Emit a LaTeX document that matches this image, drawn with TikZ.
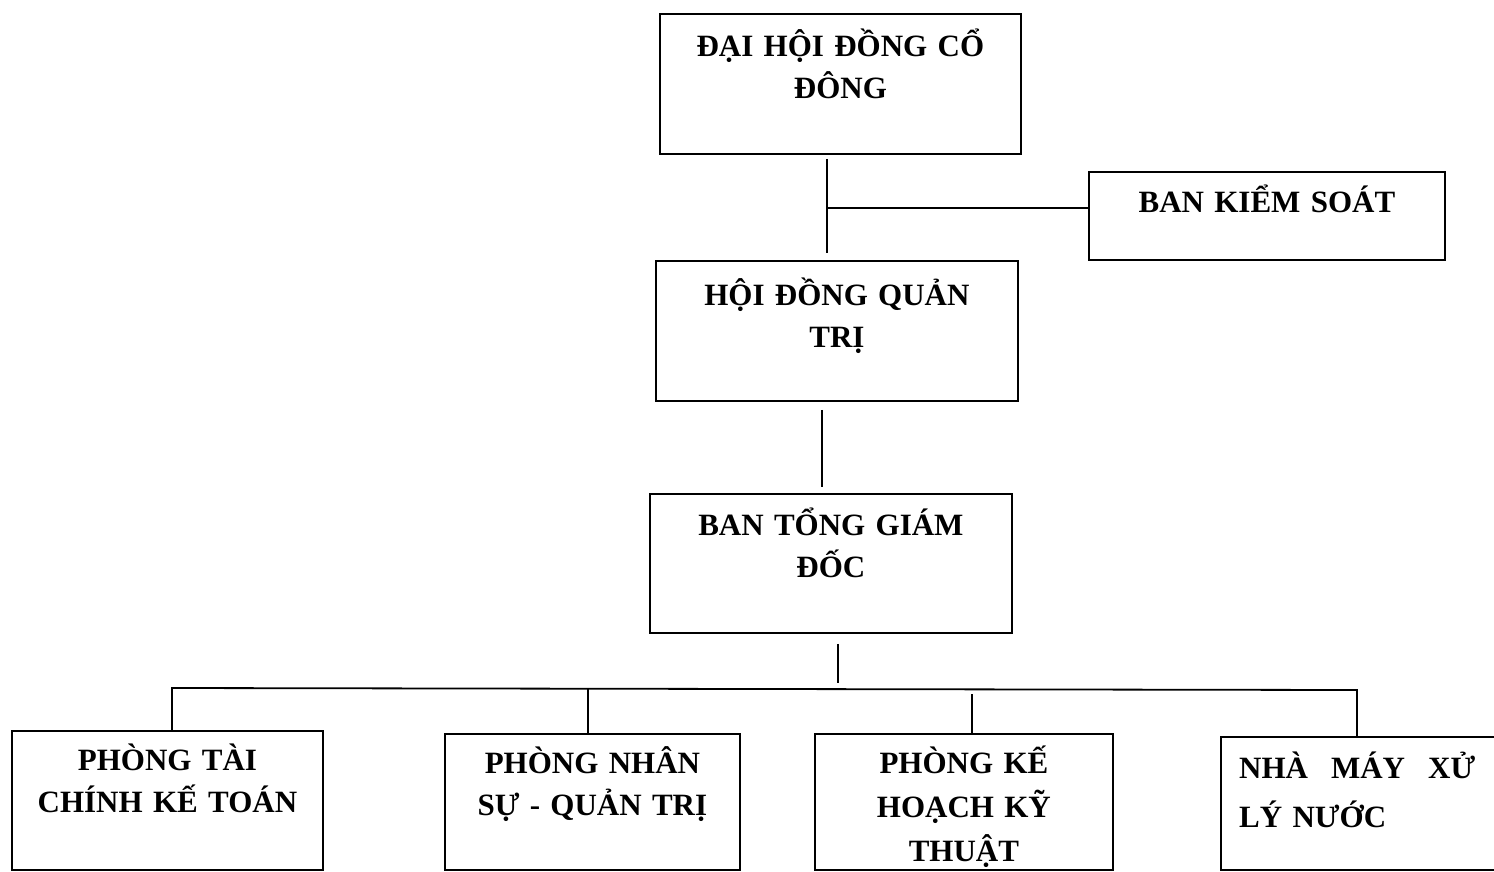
\documentclass[tikz,border=0pt]{standalone}
\usepackage{fontspec}
\setmainfont{Liberation Serif}
\usetikzlibrary{calc}
\tikzset{
  orgbox/.style={draw=black, line width=1.8pt, inner sep=0pt, anchor=north west},
  orgtext/.style={font=\bfseries\fontsize{31}{42}\selectfont, align=center, anchor=base, inner sep=0pt},
  conn/.style={draw=black, line width=1.8pt}
}
\begin{document}
\begin{tikzpicture}[x=1pt,y=-1pt]
\useasboundingbox (0,0) rectangle (1494,871);
\fill[white] (0,0) rectangle (1494,871);

% boxes
\node[orgbox, minimum width=361pt, minimum height=140pt] (dhd) at (659,13) {};
\node[orgbox, minimum width=356pt, minimum height=88pt] (bks) at (1088,171) {};
\node[orgbox, minimum width=362pt, minimum height=140pt] (hdqt) at (655,260) {};
\node[orgbox, minimum width=362pt, minimum height=139pt] (btgd) at (649,493) {};
\node[orgbox, minimum width=311pt, minimum height=139pt] (ptckt) at (11,730) {};
\node[orgbox, minimum width=295pt, minimum height=136pt] (pnsqt) at (444,733) {};
\node[orgbox, minimum width=298pt, minimum height=136pt] (pkhkt) at (814,733) {};
\node[orgbox, minimum width=320pt, minimum height=133pt] (nmxln) at (1220,736) {};

% texts
\node[orgtext, text width=340pt] (tdhd) at ([yshift=-43pt]dhd.north) {ĐẠI HỘI ĐỒNG CỔ\\ĐÔNG};
\node[orgtext, text width=340pt] (tbks) at ([yshift=-41pt]bks.north) {BAN KIỂM SOÁT};
\node[orgtext, text width=340pt] (thdqt) at ([yshift=-45pt]hdqt.north) {HỘI ĐỒNG QUẢN\\TRỊ};
\node[orgtext, text width=340pt] (tbtgd) at ([yshift=-42pt]btgd.north) {BAN TỔNG GIÁM\\ĐỐC};
\node[orgtext, text width=300pt] (tptckt) at ([yshift=-40pt]ptckt.north) {PHÒNG TÀI\\CHÍNH KẾ TOÁN};
\node[orgtext, text width=285pt] (tpnsqt) at ([yshift=-40pt]pnsqt.north) {PHÒNG NHÂN\\SỰ - QUẢN TRỊ};
\node[orgtext, text width=285pt] (tpkhkt) at ([yshift=-40pt]pkhkt.north) {PHÒNG KẾ\\[2pt]HOẠCH KỸ\\[2pt]THUẬT};
\node[orgtext, align=left, anchor=base west, text width=236pt] (tnmxln) at (1239,778) {NHÀ\hfill MÁY\hfill XỬ\\[7pt]LÝ NƯỚC};

% connectors
\coordinate (j1) at (827,208);
\coordinate (j2) at (822,450);
\coordinate (j3) at (838,660);
\draw[conn, shorten <=4pt, shorten >=7pt] (dhd.south -| j1) -- (hdqt.north -| j1);
\draw[conn] (j1) -- (j1 -| bks.west);
\draw[conn, shorten <=8pt, shorten >=6pt] (hdqt.south -| j2) -- (btgd.north -| j2);

\coordinate (busL) at (172,688);
\coordinate (busR) at (1357,690);
\coordinate (d2) at (588,688.7);
\coordinate (d3) at (972,694);
\draw[conn, shorten <=10pt] (btgd.south -| j3) -- (838,683);
\draw[conn] (ptckt.north -| busL) -- (busL) -- (busR) -- (nmxln.north -| busR);
\draw[conn] (d2) -- (pnsqt.north -| d2);
\draw[conn] (d3) -- (pkhkt.north -| d3);
\end{tikzpicture}
\end{document}
